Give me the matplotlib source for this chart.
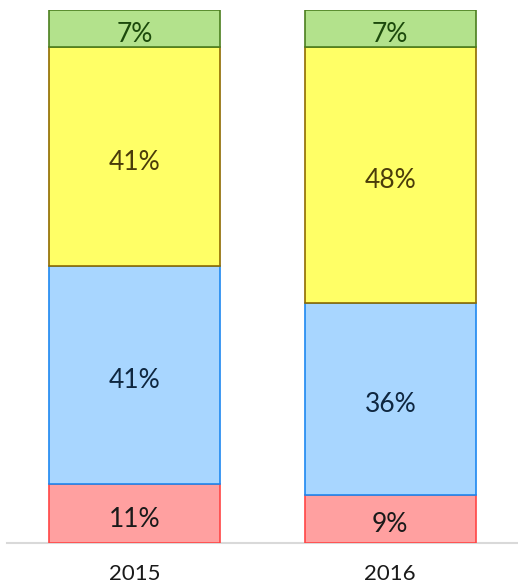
import matplotlib.pyplot as plt
import numpy as np

years = ['2015', '2016']
red = [11, 9]
blue = [41, 36]
yellow = [41, 48]
green = [7, 7]

series = [
    (red, '#FFA0A0', '#FF4545', '#1A1A1A'),
    (blue, '#A8D6FF', '#1E88F0', '#0F2740'),
    (yellow, '#FFFF66', '#8F6B00', '#4A3C0A'),
    (green, '#B3E28C', '#4B7F1F', '#1C4A0C'),
]

plt.rcParams['font.family'] = ['Lato', 'DejaVu Sans']

fig = plt.figure(figsize=(5.18, 5.84), dpi=100)
ax = fig.add_axes([7 / 518, 41 / 584, 511 / 518, 533 / 584])

x = np.arange(len(years))
bottom = np.zeros(len(years))
for vals, fc, ec, tc in series:
    vals = np.array(vals, dtype=float)
    ax.bar(x, vals, width=0.67, bottom=bottom, color=fc, edgecolor=ec, linewidth=1.2)
    for xi, b, v in zip(x, bottom, vals):
        ax.text(xi, b + v / 2 - 0.6, f'{int(v)}%', ha='center', va='center_baseline',
                fontsize=19, color=tc)
    bottom += vals

ax.set_xlim(-0.5, 1.5)
ax.set_ylim(0, 100)
ax.set_xticks(x)
ax.set_xticklabels(years, fontsize=16, color='#1A1A1A')
ax.tick_params(axis='x', length=0, pad=15)
ax.set_yticks([])
for s in ['top', 'right', 'left']:
    ax.spines[s].set_visible(False)
ax.spines['bottom'].set_color('#D9D9D9')
ax.spines['bottom'].set_linewidth(1.5)
ax.spines['bottom'].set_zorder(0)

fig.savefig('out.png', dpi=100)
